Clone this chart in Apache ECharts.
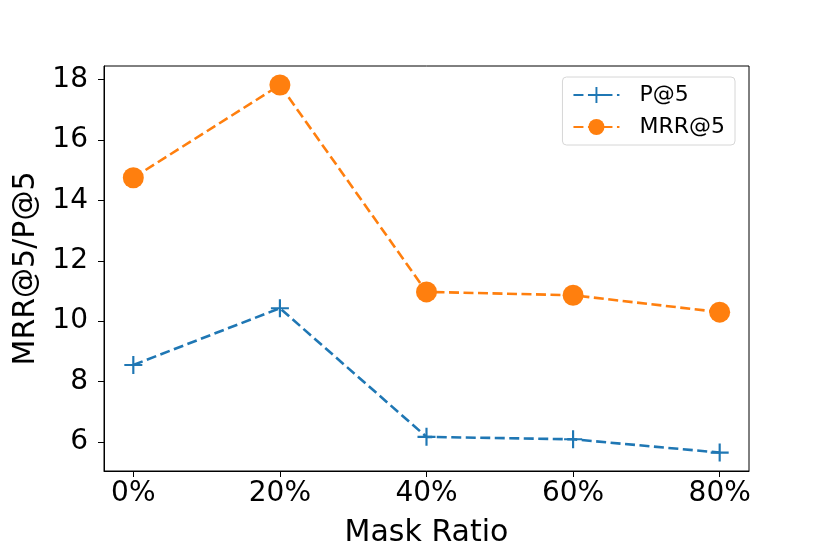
<!DOCTYPE html>
<html>
<head>
<meta charset="utf-8">
<script src="https://cdn.jsdelivr.net/npm/echarts@6/dist/echarts.min.js"></script>
<style>html,body{margin:0;padding:0;background:#fff}#c{width:830px;height:554px}</style>
</head>
<body>
<div id="c"></div>
<script>
const categories = ['0%', '20%', '40%', '60%', '80%'];
const p5 = [8.55, 10.43, 6.17, 6.09, 5.65];
const mrr5 = [14.75, 17.82, 10.97, 10.86, 10.30];
const yTicks = [6, 8, 10, 12, 14, 16, 18];

const FONT = 'DejaVu Sans';
const plusPath = 'path://M4.4,0h1.2v4.4h4.4v1.2h-4.4v4.4h-1.2v-4.4h-4.4v-1.2h4.4z';
const chart = echarts.init(document.getElementById('c'));
chart.setOption({
  animation: false,
  textStyle: { fontFamily: FONT },
  grid: { left: 104, right: 81, top: 66, bottom: 83, show: true, borderColor: '#000', borderWidth: 1 },
  legend: {
    right: 95, top: 77,
    orient: 'vertical',
    align: 'left',
    itemWidth: 46, itemHeight: 20, itemGap: 10,
    padding: [7, 10, 7, 10],
    borderColor: '#d6d6d6', borderWidth: 1, borderRadius: 4,
    textStyle: { fontSize: 22, color: '#000', fontFamily: FONT, padding: [0, 0, 0, 15] },
    data: ['P@5', 'MRR@5']
  },
  xAxis: {
    type: 'value', min: -0.2, max: 4.2,
    name: 'Mask Ratio', nameLocation: 'middle', nameGap: 47,
    nameTextStyle: { fontSize: 30, color: '#000', fontFamily: FONT },
    axisLine: { show: true, onZero: false, lineStyle: { color: '#000', width: 1 } },
    axisTick: { show: true, length: 6, customValues: categories.map((_, i) => i), lineStyle: { color: '#000' } },
    axisLabel: { fontSize: 28, color: '#000', margin: 9, customValues: categories.map((_, i) => i), formatter: v => categories[Math.round(v)] },
    splitLine: { show: false }
  },
  yAxis: {
    type: 'value', min: 5.04, max: 18.45,
    name: 'MRR@5/P@5', nameLocation: 'middle', nameGap: 62,
    nameTextStyle: { fontSize: 30, color: '#000', fontFamily: FONT },
    axisLine: { show: true, onZero: false, lineStyle: { color: '#000', width: 1 } },
    axisTick: { show: true, length: 6, customValues: yTicks, lineStyle: { color: '#000' } },
    axisLabel: { fontSize: 28, color: '#000', margin: 16, customValues: yTicks },
    splitLine: { show: false }
  },
  series: [
    {
      name: 'P@5', type: 'line',
      data: p5.map((v, i) => [i, v]),
      symbol: plusPath, symbolSize: 18,
      itemStyle: { color: '#1f77b4' },
      lineStyle: { color: '#1f77b4', width: 2.6, type: [10, 4.5] },
      z: 3
    },
    {
      name: 'MRR@5', type: 'line',
      data: mrr5.map((v, i) => [i, v]),
      symbol: 'circle', symbolSize: 21,
      itemStyle: { color: '#ff7f0e' },
      lineStyle: { color: '#ff7f0e', width: 2.6, type: [10, 4.5] },
      z: 3
    }
  ]
});
</script>
</body>
</html>
